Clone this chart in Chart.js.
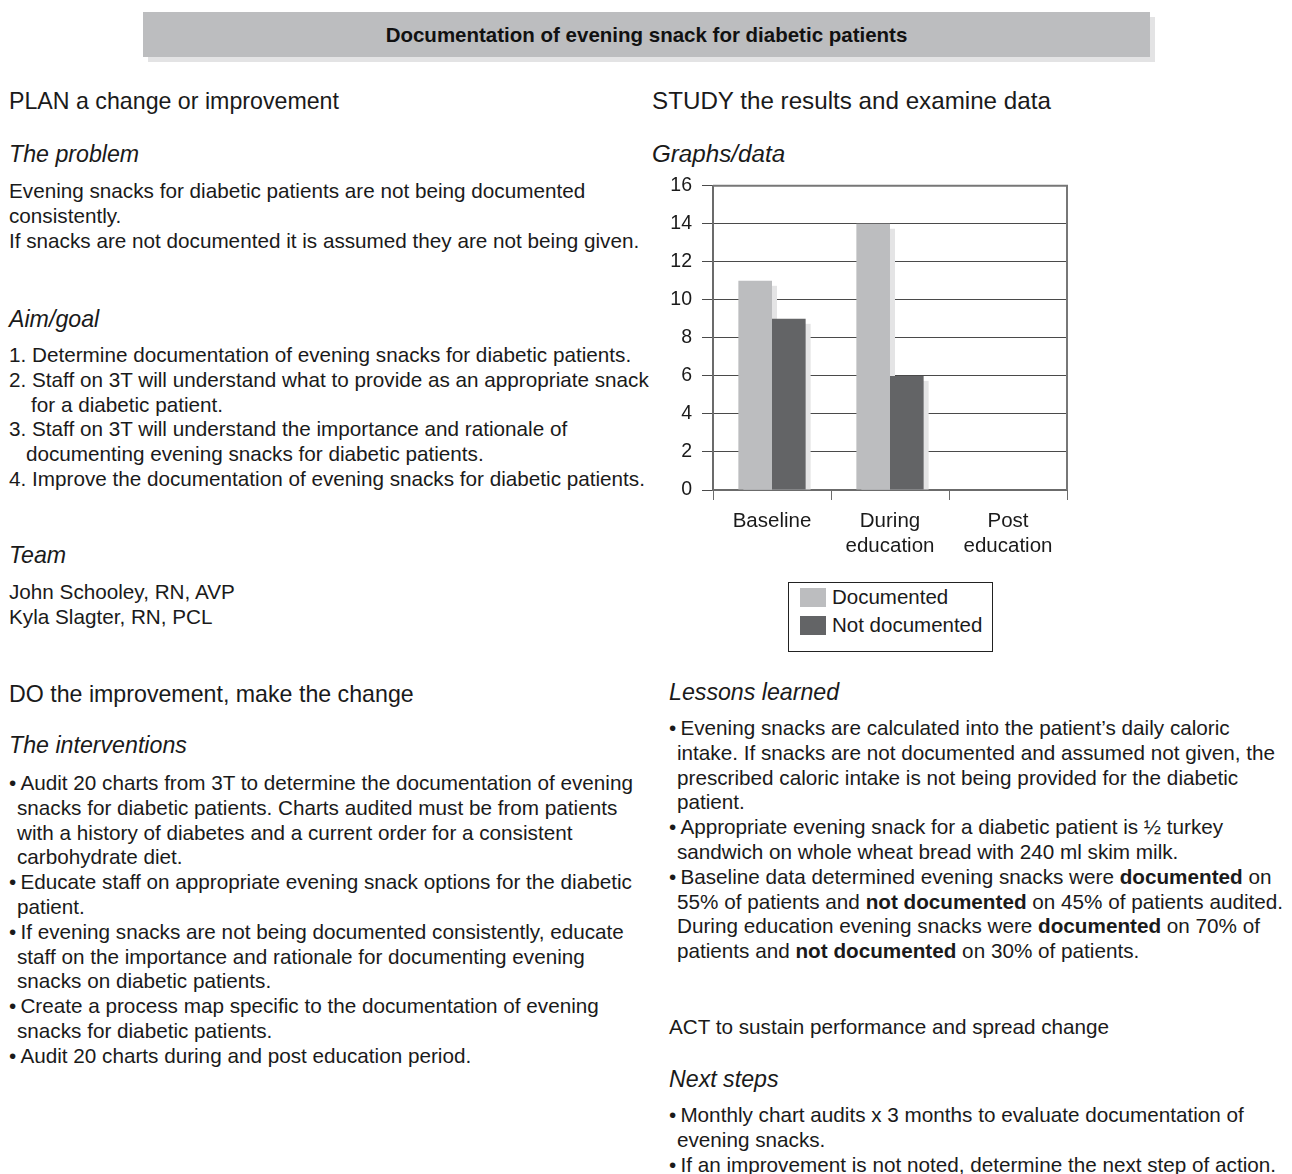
<!DOCTYPE html>
<html>
<head>
<meta charset="utf-8">
<script src="https://cdn.jsdelivr.net/npm/chart.js@4/dist/chart.umd.min.js"></script>
<style>
  body { margin: 0; background: #fff; font-family: "Liberation Sans", Arial, sans-serif; color: #1a1a1a; }
  #page { position: relative; width: 1292px; height: 1174px; overflow: hidden; }
  .hdr { position: absolute; left: 143px; top: 12px; width: 1007px; height: 45px; background: #bcbdbf;
         box-shadow: 5px 5px 0 #e3e3e4; display: flex; align-items: center; justify-content: center; }
  .hdr span { font-weight: bold; font-size: 20.5px; color: #111; }
  .blk { position: absolute; font-size: 20.7px; line-height: 24.8px; white-space: nowrap; }
  .hd { font-size: 23.2px; }
  .hd2 { font-size: 24.2px; }
  .it { font-style: italic; }
  .ind { padding-left: 8px; }
  #chartBox { position: absolute; left: 640px; top: 164px; width: 432px; height: 396px; }
  #legend { position: absolute; left: 788px; top: 582px; width: 203px; height: 68px; border: 1.3px solid #222;
            font-size: 20.5px; }
  #legend div { height: 28px; display: flex; align-items: center; padding-left: 11px; }
  #legend i { display: inline-block; width: 26px; height: 19px; margin-right: 6px; }
  #legend span { white-space: nowrap; }
</style>
</head>
<body>
<div id="page">
  <div class="hdr"><span>Documentation of evening snack for diabetic patients</span></div>

  <div class="blk hd" style="left:9px;top:89px">PLAN a change or improvement</div>
  <div class="blk hd it" style="left:9px;top:142px">The problem</div>
  <div class="blk" style="left:9px;top:179px">Evening snacks for diabetic patients are not being documented<br>consistently.<br>If snacks are not documented it is assumed they are not being given.</div>
  <div class="blk hd it" style="left:9px;top:307px">Aim/goal</div>
  <div class="blk" style="left:9px;top:343px">1. Determine documentation of evening snacks for diabetic patients.<br>2. Staff on 3T will understand what to provide as an appropriate snack<br><span style="padding-left:22px">for a diabetic patient.</span><br>3. Staff on 3T will understand the importance and rationale of<br><span style="padding-left:17px">documenting evening snacks for diabetic patients.</span><br>4. Improve the documentation of evening snacks for diabetic patients.</div>
  <div class="blk hd it" style="left:9px;top:543px">Team</div>
  <div class="blk" style="left:9px;top:580px">John Schooley, RN, AVP<br>Kyla Slagter, RN, PCL</div>
  <div class="blk hd" style="left:9px;top:682px">DO the improvement, make the change</div>
  <div class="blk hd it" style="left:9px;top:733px">The interventions</div>
  <div class="blk" style="left:9px;top:771px">•&thinsp;Audit 20 charts from 3T to determine the documentation of evening<br><span class="ind">snacks for diabetic patients. Charts audited must be from patients</span><br><span class="ind">with a history of diabetes and a current order for a consistent</span><br><span class="ind">carbohydrate diet.</span><br>•&thinsp;Educate staff on appropriate evening snack options for the diabetic<br><span class="ind">patient.</span><br>•&thinsp;If evening snacks are not being documented consistently, educate<br><span class="ind">staff on the importance and rationale for documenting evening</span><br><span class="ind">snacks on diabetic patients.</span><br>•&thinsp;Create a process map specific to the documentation of evening<br><span class="ind">snacks for diabetic patients.</span><br>•&thinsp;Audit 20 charts during and post education period.</div>

  <div class="blk hd2" style="left:652px;top:89px">STUDY the results and examine data</div>
  <div class="blk hd2 it" style="left:652px;top:142px">Graphs/data</div>
  <div id="chartBox"><canvas id="snackChart"></canvas></div>
  <div id="legend"></div>

  <div class="blk hd it" style="left:669px;top:680px">Lessons learned</div>
  <div class="blk" style="left:669px;top:716px">•&thinsp;Evening snacks are calculated into the patient’s daily caloric<br><span class="ind">intake. If snacks are not documented and assumed not given, the</span><br><span class="ind">prescribed caloric intake is not being provided for the diabetic</span><br><span class="ind">patient.</span><br>•&thinsp;Appropriate evening snack for a diabetic patient is ½ turkey<br><span class="ind">sandwich on whole wheat bread with 240 ml skim milk.</span><br>•&thinsp;Baseline data determined evening snacks were <b>documented</b> on<br><span class="ind">55% of patients and <b>not documented</b> on 45% of patients audited.</span><br><span class="ind">During education evening snacks were <b>documented</b> on 70% of</span><br><span class="ind">patients and <b>not documented</b> on 30% of patients.</span></div>
  <div class="blk" style="left:669px;top:1015px">ACT to sustain performance and spread change</div>
  <div class="blk hd it" style="left:669px;top:1067px">Next steps</div>
  <div class="blk" style="left:669px;top:1103px">•&thinsp;Monthly chart audits x 3 months to evaluate documentation of<br><span class="ind">evening snacks.</span><br>•&thinsp;If an improvement is not noted, determine the next step of action.</div>
</div>

<script>
// Audit counts per period
const periods = ['Baseline', ['During', 'education'], ['Post', 'education']];
const documented = [11, 14, null];
const notDocumented = [9, 6, null];
const seriesNames = ['Documented', 'Not documented'];
const seriesColors = ['#bcbdbf', '#636466'];
const yMin = 0, yMax = 16, yStep = 2;

Chart.defaults.font.family = '"Liberation Sans", Arial, sans-serif';
Chart.defaults.font.size = 18;
Chart.defaults.color = '#1a1a1a';

// light drop shadow behind each bar, drawn before the bars
const barShadow = {
    id: 'barShadow',
    beforeDatasetsDraw(chart) {
        const ctx = chart.ctx;
        ctx.save();
        ctx.fillStyle = '#e4e4e5';
        chart.data.datasets.forEach((ds, i) => {
            chart.getDatasetMeta(i).data.forEach((bar, j) => {
                if (ds.data[j] == null) return;
                const top = bar.y + 5;
                ctx.fillRect(bar.x - bar.width / 2 + 5, top, bar.width, bar.base - top);
            });
        });
        ctx.restore();
    }
};

// top and right edges of the plot frame
const plotFrame = {
    id: 'plotFrame',
    afterDatasetsDraw(chart) {
        const { ctx, chartArea: a } = chart;
        ctx.save();
        ctx.strokeStyle = '#777';
        ctx.lineWidth = 2;
        ctx.beginPath();
        ctx.moveTo(a.left, a.top);
        ctx.lineTo(a.right, a.top);
        ctx.lineTo(a.right, a.bottom);
        ctx.stroke();
        ctx.restore();
    }
};

const snackCtx = document.getElementById('snackChart');
const snackChart = new Chart(snackCtx, {
    type: 'bar',
    data: {
        labels: periods,
        datasets: [
            { label: seriesNames[0], data: documented, backgroundColor: seriesColors[0] },
            { label: seriesNames[1], data: notDocumented, backgroundColor: seriesColors[1] }
        ]
    },
    options: {
        responsive: true,
        maintainAspectRatio: false,
        animation: false,
        datasets: { bar: { categoryPercentage: 0.57, barPercentage: 1 } },
        layout: { padding: { top: 0, right: 5, left: 0, bottom: 0 } },
        plugins: { legend: { display: false }, tooltip: { enabled: false } },
        scales: {
            x: {
                grid: { drawOnChartArea: false, drawTicks: true, tickLength: 10, color: '#6b6b6b', offset: true },
                border: { color: '#6b6b6b', width: 2 },
                ticks: { padding: 9, font: { size: 20.5, lineHeight: 1.2 }, maxRotation: 0 },
                afterFit(scale) { scale.height = 70; }
            },
            y: {
                min: yMin, max: yMax,
                grid: { color: '#4a4a4a', lineWidth: 1, tickLength: 11 },
                border: { color: '#6b6b6b', width: 2 },
                ticks: { stepSize: yStep, padding: 10, font: { size: 19.5 } },
                afterFit(scale) { scale.width = 73; }
            }
        }
    },
    plugins: [barShadow, plotFrame]
});

// HTML legend from the chart's datasets
const legendBox = document.getElementById('legend');
snackChart.data.datasets.forEach(ds => {
    const row = document.createElement('div');
    row.innerHTML = '<i style="background:' + ds.backgroundColor + '"></i><span>' + ds.label + '</span>';
    legendBox.appendChild(row);
});
</script>
</body>
</html>
